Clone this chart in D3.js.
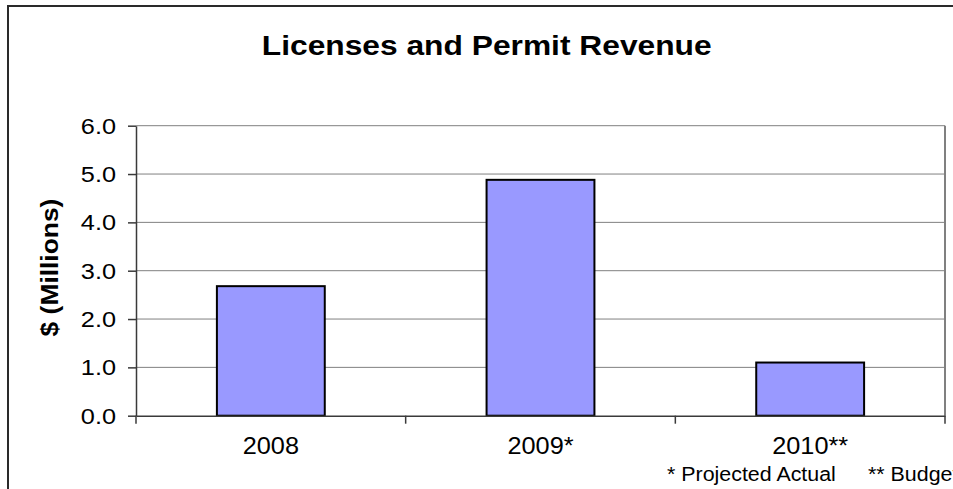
<!DOCTYPE html>
<html>
<head>
<meta charset="utf-8">
<script src="https://cdn.jsdelivr.net/npm/d3@7"></script>
<style>
  html, body { margin: 0; padding: 0; background: #fff; }
  svg { display: block; }
  text { font-family: "Liberation Sans", Arial, sans-serif; fill: #000; }
</style>
</head>
<body>
<svg id="chart" width="953" height="489"></svg>
<script>
// Chart content
const categories = ["2008", "2009*", "2010**"];
const revenue = [2.68, 4.88, 1.10];          // $ millions
const yTicks = [0, 1, 2, 3, 4, 5, 6];
const titleText = "Licenses and Permit Revenue";
const yTitleText = "$ (Millions)";
const footnotes = ["* Projected Actual", "** Budget"];

const svg = d3.select("#chart");

// Plot area
const plot = { left: 136, right: 945, top: 125.7, bottom: 415.7 };

const y = d3.scaleLinear().domain([0, 6]).range([plot.bottom, plot.top]);
// Category slots (tick marks sit on slot boundaries, labels in the middle)
const xSlot = d3.scaleBand().domain(categories).range([plot.left, plot.right]).padding(0);
// Bars take the middle 40% of each slot
const xBar = d3.scaleBand().domain(categories).range([plot.left, plot.right])
  .paddingInner(0.6).paddingOuter(0.3);

// Outer chart frame
svg.append("path")
  .attr("d", "M8,492V6H956")
  .attr("fill", "none")
  .attr("stroke", "#2a2a2a")
  .attr("stroke-width", 2);

// Title
svg.append("text")
  .attr("transform", "translate(486.7,55) scale(1.134,1)")
  .attr("text-anchor", "middle")
  .style("font-size", "28px")
  .style("font-weight", "bold")
  .text(titleText);

// Horizontal gridlines
svg.append("g")
  .selectAll("line")
  .data(yTicks.filter(d => d > 0))
  .join("line")
  .attr("x1", plot.left).attr("x2", plot.right)
  .attr("y1", d => y(d)).attr("y2", d => y(d))
  .attr("stroke", "#808080")
  .attr("stroke-width", 1);

// Right edge of the plot area
svg.append("line")
  .attr("x1", plot.right).attr("x2", plot.right)
  .attr("y1", y(6)).attr("y2", y(0))
  .attr("stroke", "#808080")
  .attr("stroke-width", 2);

// Bars
svg.append("g")
  .selectAll("rect")
  .data(categories.map((c, i) => ({ c, v: revenue[i] })))
  .join("rect")
  .attr("x", d => xBar(d.c))
  .attr("width", xBar.bandwidth())
  .attr("y", d => y(d.v))
  .attr("height", d => y(0) - y(d.v))
  .attr("fill", "#9999FF")
  .attr("stroke", "#000")
  .attr("stroke-width", 2);

// Y axis
const yAxis = svg.append("g")
  .attr("transform", `translate(${plot.left},0)`)
  .call(d3.axisLeft(y).tickValues(yTicks).tickSize(8).tickSizeOuter(0)
    .tickFormat(d3.format(".1f")));
yAxis.select(".domain").attr("stroke", "#3a3a3a").attr("stroke-width", 1.5);
yAxis.selectAll(".tick line").attr("stroke", "#3a3a3a").attr("stroke-width", 1.5);
yAxis.selectAll(".tick text")
  .attr("x", null).attr("dy", null)
  .attr("transform", "translate(-20,7.6) scale(1.15,1)")
  .attr("text-anchor", "end")
  .style("font-size", "22px")
  .style("font-family", "'Liberation Sans', Arial, sans-serif")
  .attr("fill", "#000");

// X axis: labels centred in slots, tick marks on slot boundaries
const xAxis = svg.append("g")
  .attr("transform", `translate(0,${plot.bottom})`)
  .call(d3.axisBottom(xSlot).tickSize(0).tickSizeOuter(0));
xAxis.select(".domain").attr("stroke", "#3a3a3a").attr("stroke-width", 1.5);
xAxis.selectAll(".tick text")
  .attr("y", null).attr("dy", null)
  .attr("transform", "translate(0,38.3) scale(1.1,1)")
  .attr("text-anchor", "middle")
  .style("font-size", "23px")
  .style("font-family", "'Liberation Sans', Arial, sans-serif")
  .attr("fill", "#000");

const boundaries = categories.map(c => xSlot(c)).concat([xSlot.range()[1]]);
xAxis.append("g")
  .selectAll("line")
  .data(boundaries)
  .join("line")
  .attr("x1", d => d).attr("x2", d => d)
  .attr("y1", 0).attr("y2", 8)
  .attr("stroke", "#3a3a3a")
  .attr("stroke-width", 1.5);

// Y axis title
svg.append("text")
  .attr("transform", "translate(58,267.5) rotate(-90) scale(1.1,1)")
  .attr("text-anchor", "middle")
  .style("font-size", "24px")
  .style("font-weight", "bold")
  .text(yTitleText);

// Footnotes
const footX = [667, 868];
svg.append("g")
  .selectAll("text")
  .data(footnotes)
  .join("text")
  .attr("transform", (d, i) => `translate(${footX[i]},480.5) scale(1.07,1)`)
  .style("font-size", "20px")
  .text(d => d);
</script>
</body>
</html>
